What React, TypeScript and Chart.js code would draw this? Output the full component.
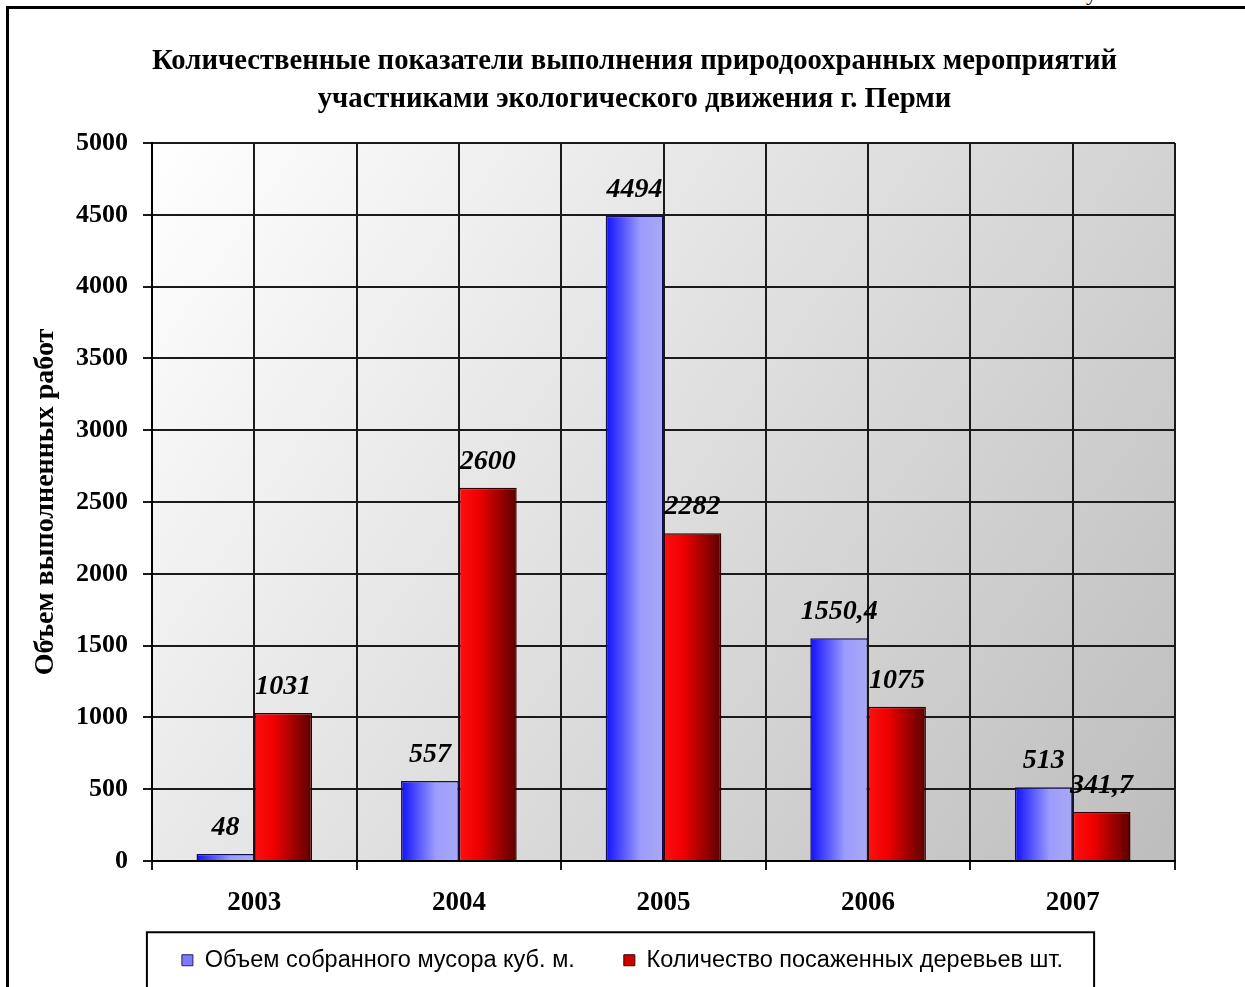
import React, { useEffect, useRef } from 'react';
import { Chart, registerables } from 'chart.js';

Chart.register(...registerables);

const years = ['2003', '2004', '2005', '2006', '2007'];
const garbageVolume = [48, 557, 4494, 1550.4, 513];
const treesPlanted = [1031, 2600, 2282, 1075, 341.7];
const seriesNames = ['Объем собранного мусора куб. м.', 'Количество посаженных деревьев шт.'];
const titleLines = [
  'Количественные показатели выполнения природоохранных мероприятий',
  'участниками экологического движения г. Перми',
];
const yAxisTitle = 'Объем выполненных работ';
const yMin = 0;
const yMax = 5000;
const yStep = 500;

const CAT_PCT = 0.565;
const SERIF = "'Liberation Serif', 'Times New Roman', serif";
const SANS = "'Liberation Sans', Arial, sans-serif";

function barFill(ctx: any, dsIndex: number) {
  const fallback = dsIndex === 0 ? '#7b7bff' : '#cc0000';
  if (ctx.type !== 'data') return fallback;
  const chart = ctx.chart;
  const xs = chart.scales.x;
  if (!xs || !chart.chartArea) return fallback;
  const catW = xs.width / years.length;
  const bw = (catW * CAT_PCT) / 2;
  const c = xs.getPixelForValue(ctx.dataIndex);
  const left = dsIndex === 0 ? c - bw : c;
  const g = chart.ctx.createLinearGradient(left, 0, left + bw, 0);
  if (dsIndex === 0) {
    g.addColorStop(0, '#1010ff');
    g.addColorStop(0.6, '#9c9cff');
    g.addColorStop(1, '#a9a9f4');
  } else {
    g.addColorStop(0, '#ff1010');
    g.addColorStop(0.35, '#ee0000');
    g.addColorStop(1, '#5a0000');
  }
  return g;
}

const plotBackground = {
  id: 'plotBackground',
  beforeDraw(chart: any) {
    const { ctx, chartArea: a } = chart;
    if (!a) return;
    const g = ctx.createLinearGradient(a.left, a.top, a.right, a.bottom);
    g.addColorStop(0, '#ffffff');
    g.addColorStop(1, '#bdbdbd');
    ctx.save();
    ctx.fillStyle = g;
    ctx.fillRect(a.left, a.top, a.right - a.left, a.bottom - a.top);
    ctx.restore();
  },
};

const titlePlugin = {
  id: 'titleText',
  afterDraw(chart: any) {
    const { ctx } = chart;
    ctx.save();
    ctx.font = `bold 28.7px ${SERIF}`;
    ctx.fillStyle = '#000';
    ctx.textAlign = 'center';
    ctx.textBaseline = 'middle';
    const cx = chart.width / 2 + 12;
    titleLines.forEach((t, i) => ctx.fillText(t, cx, 62 + i * 38));
    ctx.restore();
  },
};

const dataLabels = {
  id: 'dataLabels',
  afterDatasetsDraw(chart: any) {
    const { ctx } = chart;
    ctx.save();
    ctx.font = `italic bold 28px ${SERIF}`;
    ctx.fillStyle = '#000';
    ctx.textAlign = 'center';
    ctx.textBaseline = 'alphabetic';
    chart.data.datasets.forEach((ds: any, di: number) => {
      const meta = chart.getDatasetMeta(di);
      meta.data.forEach((el: any, i: number) => {
        const txt = String(ds.data[i]).replace('.', ',');
        ctx.fillText(txt, el.x, el.y - 19);
      });
    });
    ctx.restore();
  },
};

const legendFrame = {
  id: 'legendFrame',
  afterDraw(chart: any) {
    const lg = chart.legend;
    if (!lg || !lg.legendHitBoxes || !lg.legendHitBoxes.length) return;
    const hb = lg.legendHitBoxes;
    const first = hb[0];
    const last = hb[hb.length - 1];
    const cy = first.top + first.height / 2;
    const l = first.left - 35;
    const r = last.left + last.width + 31;
    const { ctx } = chart;
    ctx.save();
    ctx.strokeStyle = '#000';
    ctx.lineWidth = 2;
    ctx.strokeRect(l, cy - 28, r - l, 120);
    ctx.restore();
  },
};

export default function App() {
  const ref = useRef<HTMLCanvasElement>(null);

  useEffect(() => {
    const gridColor = '#1a1a1a';
    const chart = new Chart(ref.current as HTMLCanvasElement, {
      type: 'bar',
      data: {
        labels: years,
        datasets: [
          {
            label: seriesNames[0],
            data: garbageVolume,
            backgroundColor: (c: any) => barFill(c, 0),
            borderColor: '#101050',
            borderWidth: 1.5,
            barPercentage: 1,
            categoryPercentage: CAT_PCT,
          },
          {
            label: seriesNames[1],
            data: treesPlanted,
            backgroundColor: (c: any) => barFill(c, 1),
            borderColor: '#300000',
            borderWidth: 1.5,
            barPercentage: 1,
            categoryPercentage: CAT_PCT,
          },
        ],
      },
      options: {
        responsive: false,
        animation: false,
        events: [],
        layout: { padding: { left: 0, right: 0, top: 143, bottom: 5 } },
        plugins: {
          title: { display: false },
          tooltip: { enabled: false },
          legend: {
            display: true,
            position: 'bottom',
            labels: {
              font: { family: SANS, size: 23.5 },
              color: '#000',
              boxWidth: 11,
              boxHeight: 11,
              padding: 49,
              generateLabels: () =>
                seriesNames.map((t, i) => ({
                  text: t,
                  fillStyle: i === 0 ? '#7b7bff' : '#d00000',
                  strokeStyle: i === 0 ? '#202060' : '#300000',
                  lineWidth: 1,
                  hidden: false,
                  datasetIndex: i,
                })),
            },
          },
        },
        scales: {
          x: {
            type: 'category',
            position: 'bottom',
            offset: true,
            grid: { offset: true, color: gridColor, lineWidth: 2, tickLength: 9, drawTicks: true },
            border: { display: true, color: '#000', width: 2 },
            ticks: {
              font: { family: SERIF, size: 27, weight: 'bold' },
              color: '#000',
              mirror: true,
              padding: -58,
              maxRotation: 0,
              autoSkip: false,
            },
            afterFit: (s: any) => {
              s.height = 38.5;
            },
          },
          xc: {
            type: 'category',
            position: 'top',
            offset: true,
            grid: { offset: false, color: gridColor, lineWidth: 2, drawTicks: false },
            border: { display: false },
            ticks: { display: false },
            afterFit: (s: any) => {
              s.height = 0;
            },
          },
          y: {
            position: 'left',
            min: yMin,
            max: yMax,
            ticks: {
              stepSize: yStep,
              font: { family: SERIF, size: 26, weight: 'bold' },
              color: '#000',
              padding: 15,
              callback: (v: any) => String(v),
            },
            grid: { color: gridColor, lineWidth: 2, tickLength: 9 },
            border: { display: true, color: '#000', width: 2 },
            title: {
              display: true,
              text: yAxisTitle,
              font: { family: SERIF, size: 28, weight: 'bold' },
              color: '#000',
              padding: { top: 29, bottom: 0 },
            },
            afterFit: (s: any) => {
              s.width = 152;
            },
          },
          yr: {
            type: 'linear',
            position: 'right',
            display: true,
            grid: { display: false },
            ticks: { display: false },
            border: { display: false },
            afterFit: (s: any) => {
              s.width = 70;
            },
          },
        },
      } as any,
      plugins: [plotBackground, dataLabels, legendFrame, titlePlugin],
    });
    return () => chart.destroy();
  }, []);

  return (
    <div
      style={{
        position: 'absolute',
        left: 0,
        top: 0,
        width: 1245,
        height: 987,
        overflow: 'hidden',
        background: '#fff',
      }}
    >
      <div
        style={{
          position: 'absolute',
          left: 6,
          top: 6,
          width: 1250,
          height: 1000,
          borderTop: '3px solid #000',
          borderLeft: '3px solid #000',
        }}
      />
      <span
        style={{
          position: 'absolute',
          left: 1086,
          top: -20,
          fontFamily: SERIF,
          fontSize: 22,
          lineHeight: '25px',
        }}
      >
        у
      </span>
      <canvas ref={ref} width={1245} height={987} style={{ position: 'absolute', left: 0, top: 0 }} />
    </div>
  );
}
